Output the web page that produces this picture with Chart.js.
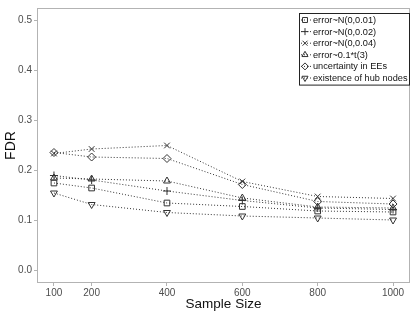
<!DOCTYPE html>
<html>
<head>
<meta charset="utf-8">
<script src="https://cdn.jsdelivr.net/npm/chart.js@4"></script>
<style>
  html, body { margin: 0; padding: 0; background: #fff; }
  #wrap { width: 415px; height: 312px; }
</style>
</head>
<body>
<div id="wrap"><canvas id="fdrChart" width="415" height="312"></canvas></div>
<script>
// data
const sampleSizes = [100, 200, 400, 600, 800, 1000];
const xTicks = [100, 200, 400, 600, 800, 1000];
const yTicks = [0, 0.1, 0.2, 0.3, 0.4, 0.5];

const seriesNames = [
    'error~N(0,0.01)',
    'error~N(0,0.02)',
    'error~N(0,0.04)',
    'error~0.1*t(3)',
    'uncertainty in EEs',
    'existence of hub nodes'
];
const errN001 = [0.175, 0.165, 0.135, 0.128, 0.119, 0.117];
const errN002 = [0.190, 0.181, 0.159, 0.140, 0.125, 0.122];
const errN004 = [0.234, 0.243, 0.250, 0.178, 0.148, 0.144];
const errT3 = [0.185, 0.183, 0.179, 0.145, 0.127, 0.125];
const eeUncertainty = [0.236, 0.227, 0.224, 0.172, 0.138, 0.133];
const hubNodes = [0.155, 0.132, 0.116, 0.109, 0.105, 0.101];

const seriesValues = [errN001, errN002, errN004, errT3, eeUncertainty, hubNodes];
const markerStyles = ['rect', 'cross', 'crossRot', 'triangle', 'rectRot', 'triangle'];
const markerRotation = [0, 0, 0, 0, 0, 180];

const ink = '#333333';
const frameGray = '#b3b3b3';

const datasets = seriesNames.map((name, i) => ({
    label: name,
    data: sampleSizes.map((x, j) => ({ x: x, y: seriesValues[i][j] })),
    borderColor: ink,
    borderWidth: 1,
    borderDash: [1, 2],
    backgroundColor: 'rgba(0,0,0,0)',
    pointStyle: markerStyles[i],
    pointRotation: markerRotation[i],
    pointRadius: 4,
    pointBorderWidth: 1,
    pointBorderColor: ink,
    pointBackgroundColor: 'rgba(0,0,0,0)',
    fill: false,
    tension: 0
}));

// gray frame around the panel, like the ggplot theme
const panelFrame = {
    id: 'panelFrame',
    afterDraw(chart) {
        const { ctx, chartArea: a } = chart;
        ctx.save();
        ctx.strokeStyle = frameGray;
        ctx.lineWidth = 1;
        ctx.strokeRect(Math.round(a.left) + 0.5, Math.round(a.top) + 0.5,
            Math.round(a.right - a.left) - 1, Math.round(a.bottom - a.top) - 1);
        ctx.restore();
    }
};

// boxed legend in the upper right corner
const boxLegend = {
    id: 'boxLegend',
    afterDraw(chart) {
        const ctx = chart.ctx;
        const left = 299, top = 13, width = 110, rowH = 11.6;
        const height = rowH * chart.data.datasets.length + 2;
        ctx.save();
        ctx.fillStyle = '#fff';
        ctx.fillRect(left, top, width, height);
        ctx.strokeStyle = '#222';
        ctx.lineWidth = 1;
        ctx.strokeRect(left + 0.5, top + 0.5, width, height);
        ctx.font = '9.2px "Liberation Sans", Arial, sans-serif';
        ctx.textBaseline = 'middle';
        chart.data.datasets.forEach((ds, i) => {
            const cy = top + 7 + i * rowH;
            ctx.strokeStyle = ink;
            ctx.setLineDash([1, 2]);
            ctx.beginPath();
            ctx.moveTo(left + 2, cy);
            ctx.lineTo(left + 12, cy);
            ctx.stroke();
            ctx.setLineDash([]);
            ctx.strokeStyle = ink;
            ctx.fillStyle = 'rgba(0,0,0,0)';
            Chart.helpers.drawPoint(ctx, {
                pointStyle: ds.pointStyle,
                rotation: ds.pointRotation,
                radius: 3.5,
                borderWidth: 1
            }, left + 6, cy);
            ctx.fillStyle = '#111';
            ctx.fillText(ds.label, left + 14, cy + 0.5);
        });
        ctx.restore();
    }
};

new Chart(document.getElementById('fdrChart'), {
    type: 'line',
    data: { datasets: datasets },
    options: {
        responsive: false,
        animation: false,
        layout: { padding: { top: 3, right: 3, left: 0, bottom: 0 } },
        plugins: {
            legend: { display: false },
            tooltip: { enabled: false }
        },
        scales: {
            x: {
                type: 'linear',
                min: 55,
                max: 1045,
                afterBuildTicks: (axis) => {
                    axis.ticks = xTicks.map((v) => ({ value: v }));
                },
                afterFit: (axis) => { axis.height = 29; },
                grid: {
                    drawOnChartArea: false,
                    drawTicks: true,
                    tickLength: 3,
                    color: frameGray
                },
                border: { display: false },
                ticks: {
                    color: '#4d4d4d',
                    padding: 1,
                    maxRotation: 0,
                    callback: (v) => String(v),
                    font: { family: '"Liberation Sans", Arial, sans-serif', size: 10 }
                },
                title: {
                    display: true,
                    text: 'Sample Size',
                    color: '#111',
                    padding: { top: -2, bottom: 0 },
                    font: { family: '"Liberation Sans", Arial, sans-serif', size: 13.5 }
                }
            },
            y: {
                min: -0.025,
                max: 0.525,
                afterBuildTicks: (axis) => {
                    axis.ticks = yTicks.map((v) => ({ value: v }));
                },
                afterFit: (axis) => { axis.width = 37; },
                grid: {
                    drawOnChartArea: false,
                    drawTicks: true,
                    tickLength: 3,
                    color: frameGray
                },
                border: { display: false },
                ticks: {
                    color: '#4d4d4d',
                    padding: 2,
                    callback: (v) => Number(v).toFixed(1),
                    font: { family: '"Liberation Sans", Arial, sans-serif', size: 10 }
                },
                title: {
                    display: true,
                    text: 'FDR',
                    color: '#111',
                    padding: { top: 3, bottom: 0 },
                    font: { family: '"Liberation Sans", Arial, sans-serif', size: 14 }
                }
            }
        }
    },
    plugins: [panelFrame, boxLegend]
});
</script>
</body>
</html>
